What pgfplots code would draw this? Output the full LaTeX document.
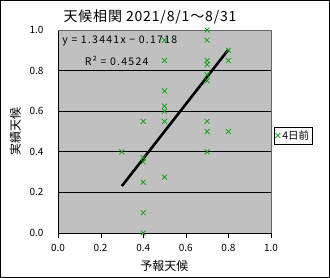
\documentclass[border=0pt]{standalone}
\usepackage{pgfplots}
\pgfplotsset{compat=1.18}
\usepackage{fontspec}
\setmainfont{Noto Sans CJK JP}
\newfontfamily\widefont[LetterSpace=12]{Noto Sans CJK JP}
\newfontfamily\titlefont[LetterSpace=6]{Noto Sans CJK JP}
\definecolor{plotgray}{RGB}{192,192,192}
\definecolor{xgreen}{RGB}{0,160,0}
\begin{document}
\begin{tikzpicture}
\useasboundingbox (0pt,0pt) rectangle (330pt,278pt);
\draw[black,line width=1pt] (0.5pt,0.5pt) rectangle (329.5pt,277.5pt);
\begin{axis}[
  at={(58pt,45pt)}, anchor=south west,
  scale only axis, width=213pt, height=203pt,
  xmin=0, xmax=1, ymin=0, ymax=1,
  xtick={0,0.2,...,1.0}, ytick={0,0.2,...,1.0},
  /pgf/number format/assume math mode=true,
  /pgf/number format/fixed, /pgf/number format/fixed zerofill, /pgf/number format/precision=1,
  xticklabel style={yshift=-3pt},
  yticklabel style={xshift=-6pt},
  tick label style={font=\fontsize{10}{11}\selectfont},
  axis background/.style={fill=plotgray},
  axis line style={black},
  axis x line*=bottom, axis y line*=left,
  x axis line style={-}, y axis line style={-},
  xtick align=outside, ytick align=outside,
  major tick length=5pt,
  ytick style={draw=none},
  xtick style={black},
  ymajorgrids, grid style={black, line width=0.8pt},
  xlabel={予報天候}, ylabel={実績天候},
  label style={font=\fontsize{12}{13}\selectfont},
  xlabel style={at={(axis description cs:0.5,0)}, anchor=center, yshift=-33pt},
  ylabel style={at={(axis description cs:-0.2,0.5)}, anchor=center},
  legend style={at={(1.015,0.48)}, anchor=west, draw=black, fill=white,
    font=\fontsize{10.5}{11}\selectfont, inner sep=1pt, row sep=0pt},
  legend cell align=left,
  clip=false,
]
\draw[gray!80!black] (rel axis cs:0,1) -- (rel axis cs:1,1) -- (rel axis cs:1,0);
\addplot[only marks, mark=x, mark size=3.5pt, xgreen, mark options={line width=0.7pt}] coordinates {
(0.3,0.40)
(0.4,0.55) (0.4,0.35) (0.4,0.37) (0.4,0.25) (0.4,0.10) (0.4,0.0)
(0.5,0.95) (0.5,0.85) (0.5,0.70) (0.5,0.625) (0.5,0.60) (0.5,0.55) (0.5,0.275)
(0.7,1.0) (0.7,0.95) (0.7,0.85) (0.7,0.83) (0.7,0.78) (0.7,0.75) (0.7,0.55) (0.7,0.50) (0.7,0.40)
(0.8,0.90) (0.8,0.85) (0.8,0.50)
};
\addlegendentry{4日前}
\addplot[black, line width=2.6pt, forget plot] coordinates {(0.3,0.2314) (0.8,0.9035)};
\node[anchor=west, font=\widefont\fontsize{10.5}{11}\selectfont, inner sep=0pt] at (axis cs:0.02,0.945) {y = 1.3441x − 0.1718};
\node[anchor=west, font=\widefont\fontsize{10.5}{11}\selectfont, inner sep=0pt] at (axis cs:0.125,0.85) {R² = 0.4524};
\end{axis}
\node[font=\titlefont\fontsize{14}{15}\selectfont] at (150pt,261pt) {天候相関 2021/8/1～8/31};
\end{tikzpicture}
\end{document}
